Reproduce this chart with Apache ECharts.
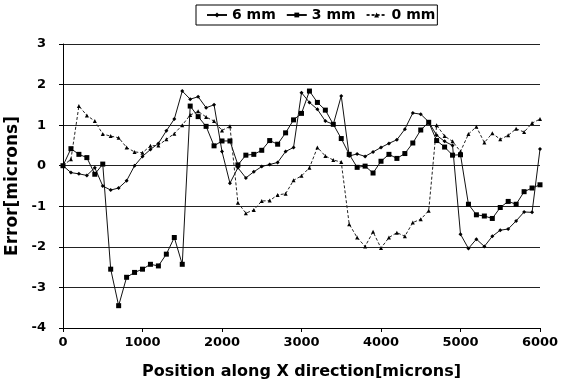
<!DOCTYPE html>
<html>
<head>
<meta charset="utf-8">
<script src="https://cdn.jsdelivr.net/npm/echarts@6/dist/echarts.min.js"></script>
<style>
  html, body { margin: 0; padding: 0; background: #fff; }
  #main { width: 573px; height: 387px; }
</style>
</head>
<body>
<div id="main"></div>
<script>
// positions along X, microns (one sample every 100)
const xPos = [];
for (let i = 0; i <= 6000; i += 100) xPos.push(i);

const err6mm = [
  0, -0.17, -0.2, -0.24, -0.05, -0.5, -0.6, -0.55, -0.37, 0.0,
  0.23, 0.4, 0.55, 0.86, 1.15, 1.84, 1.64, 1.7, 1.43, 1.5,
  0.35, -0.43, -0.05, -0.3, -0.15, -0.02, 0.03, 0.08, 0.35, 0.45,
  1.8, 1.56, 1.39, 1.1, 1.02, 1.72, 0.24, 0.29, 0.23, 0.34,
  0.45, 0.55, 0.64, 0.9, 1.3, 1.27, 1.08, 0.75, 0.6, 0.5,
  -1.69, -2.04, -1.81, -1.99, -1.74, -1.59, -1.56, -1.36, -1.14, -1.15,
  0.41
];

const err3mm = [
  0, 0.42, 0.28, 0.2, -0.21, 0.04, -2.55, -3.45, -2.75, -2.63,
  -2.55, -2.43, -2.47, -2.18, -1.77, -2.43, 1.47, 1.21, 0.97, 0.49,
  0.61, 0.61, 0.02, 0.26, 0.28, 0.38, 0.62, 0.53, 0.81, 1.13,
  1.29, 1.84, 1.56, 1.37, 1.02, 0.67, 0.28, -0.04, -0.01, -0.18,
  0.11, 0.28, 0.18, 0.3, 0.56, 0.88, 1.07, 0.62, 0.46, 0.26,
  0.27, -0.95, -1.21, -1.24, -1.3, -1.03, -0.88, -0.95, -0.64, -0.55,
  -0.47
];

const err0mm = [
  0, 0.16, 1.47, 1.24, 1.1, 0.78, 0.73, 0.69, 0.45, 0.34,
  0.32, 0.49, 0.5, 0.65, 0.79, 1.0, 1.25, 1.34, 1.2, 1.1,
  0.87, 0.97, -0.91, -1.17, -1.09, -0.87, -0.86, -0.72, -0.69, -0.36,
  -0.25, -0.05, 0.45, 0.24, 0.14, 0.09, -1.44, -1.77, -1.99, -1.63,
  -2.03, -1.77, -1.65, -1.74, -1.4, -1.32, -1.11, 1.0, 0.73, 0.6,
  0.35, 0.78, 0.96, 0.57, 0.8, 0.65, 0.75, 0.91, 0.83, 1.05,
  1.15
];

const pairs = (ys) => xPos.map((x, i) => [x, ys[i]]);

const chartDom = document.getElementById('main');
const myChart = echarts.init(chartDom);
const font = 'DejaVu Sans, sans-serif';

const option = {
  animation: false,
  textStyle: { fontFamily: font },
  legend: {
    left: 196,
    top: 5,
    padding: [3, 2, 3, 10],
    itemGap: 10,
    itemWidth: 20,
    itemHeight: 6,
    borderColor: '#000',
    borderWidth: 1,
    textStyle: { fontFamily: font, fontSize: 14, fontWeight: 'bold', color: '#000' },
    data: ['6 mm', '3 mm', '0 mm']
  },
  grid: { left: 63, right: 33, top: 44, bottom: 59, outerBoundsMode: 'none' },
  xAxis: {
    type: 'value',
    min: 0,
    max: 6000,
    interval: 1000,
    name: 'Position along X direction[microns]',
    nameLocation: 'middle',
    nameGap: 36,
    nameTextStyle: { fontFamily: font, fontSize: 16, fontWeight: 'bold', color: '#000' },
    axisLine: { onZero: false, lineStyle: { color: '#000', width: 1 } },
    axisTick: { length: 4, lineStyle: { color: '#000' } },
    axisLabel: {
      fontFamily: font, fontSize: 13, fontWeight: 'bold', color: '#000', margin: 8,
      formatter: (v) => String(v)
    },
    splitLine: { show: false }
  },
  yAxis: {
    type: 'value',
    min: -4,
    max: 3,
    interval: 1,
    name: 'Error[microns]',
    nameLocation: 'middle',
    nameGap: 31,
    nameTextStyle: { fontFamily: font, fontSize: 17, fontWeight: 'bold', color: '#000' },
    axisLine: { show: true, onZero: false, lineStyle: { color: '#000', width: 1 } },
    axisTick: { show: true, length: 4, lineStyle: { color: '#000' } },
    axisLabel: { fontFamily: font, fontSize: 13, fontWeight: 'bold', color: '#000', margin: 17 },
    splitLine: { show: true, lineStyle: { color: '#222', width: 1 } }
  },
  series: [
    {
      name: '6 mm',
      type: 'line',
      data: pairs(err6mm),
      symbol: 'diamond',
      symbolSize: 4,
      color: '#000',
      lineStyle: { color: '#111', width: 1 },
      itemStyle: { color: '#000' }
    },
    {
      name: '3 mm',
      type: 'line',
      data: pairs(err3mm),
      symbol: 'rect',
      symbolSize: 5,
      color: '#000',
      lineStyle: { color: '#111', width: 1 },
      itemStyle: { color: '#000' }
    },
    {
      name: '0 mm',
      type: 'line',
      data: pairs(err0mm),
      symbol: 'triangle',
      symbolSize: 4,
      color: '#000',
      lineStyle: { color: '#222', width: 1, type: [3, 2] },
      itemStyle: { color: '#000' }
    }
  ]
};

option && myChart.setOption(option);
</script>
</body>
</html>
